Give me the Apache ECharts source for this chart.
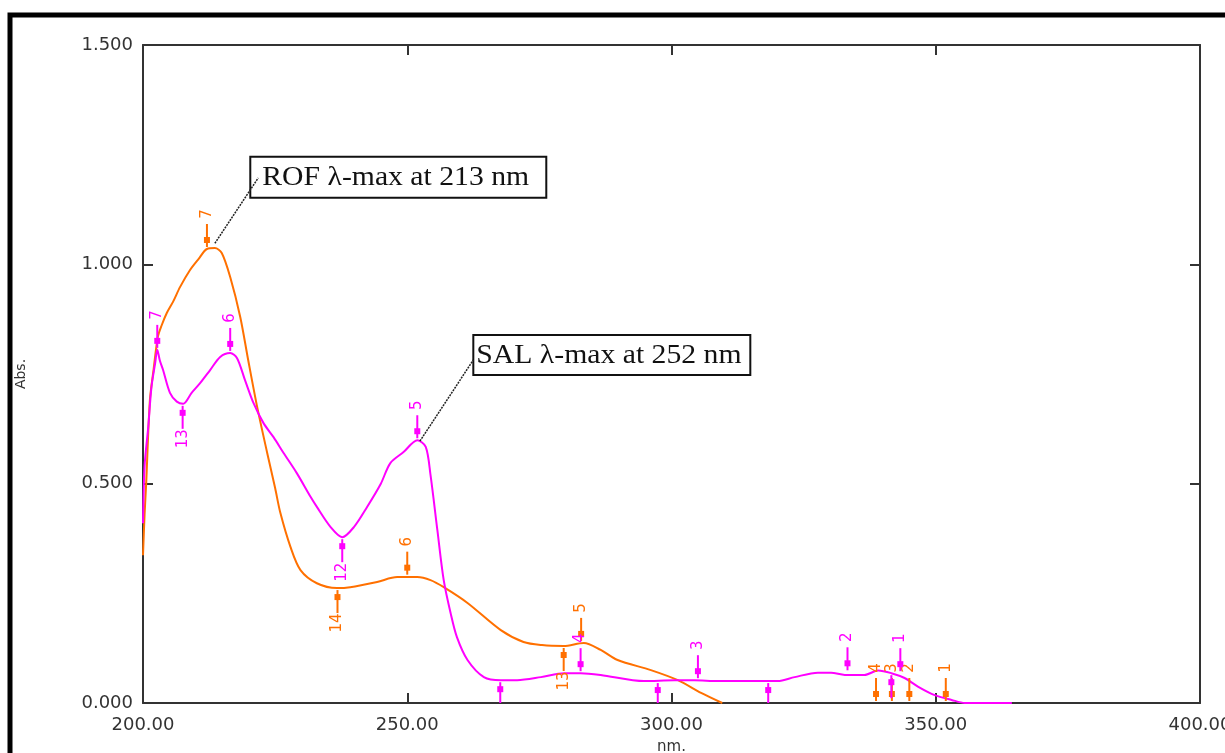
<!DOCTYPE html>
<html>
<head>
<meta charset="utf-8">
<script src="https://cdn.jsdelivr.net/npm/echarts@6/dist/echarts.min.js"></script>
<style>
  html, body { margin: 0; padding: 0; background: #fff; }
  #chart { width: 1225px; height: 753px; }
</style>
</head>
<body>
<div id="chart"></div>
<script>
// ROF spectrum (orange)
const rofNm = [200.0, 200.3, 200.6, 201.3, 202.0, 202.8, 203.5, 204.5, 205.7, 207.0, 208.9, 210.5, 212.1, 213.6, 214.9, 216.5, 218.4, 219.9, 221.6, 223.5, 225.0, 226.0, 227.9, 229.8, 232.9, 236.7, 239.2, 244.3, 248.1, 251.9, 254.4, 256.9, 261.4, 267.7, 272.0, 275.5, 279.6, 283.4, 286.6, 289.8, 296.1, 301.2, 305.6, 309.6];
const rofAbs = [0.337, 0.43, 0.50, 0.69, 0.76, 0.834, 0.86, 0.889, 0.915, 0.948, 0.987, 1.012, 1.035, 1.037, 1.026, 0.971, 0.880, 0.782, 0.675, 0.570, 0.49, 0.433, 0.356, 0.303, 0.273, 0.262, 0.264, 0.276, 0.287, 0.287, 0.280, 0.264, 0.228, 0.166, 0.139, 0.132, 0.130, 0.137, 0.121, 0.098, 0.075, 0.052, 0.023, 0.0];

// SAL spectrum (magenta)
const salNm = [200.0, 200.3, 201.0, 201.6, 202.3, 202.7, 203.2, 203.8, 205.1, 206.4, 207.6, 209.2, 210.8, 212.7, 214.6, 216.5, 217.8, 219.3, 220.9, 222.8, 224.7, 226.6, 229.1, 231.7, 232.9, 235.5, 237.7, 239.9, 242.4, 245.0, 246.8, 249.3, 251.9, 253.5, 254.4, 255.7, 256.9, 258.2, 259.4, 261.4, 264.5, 267.7, 270.8, 275.3, 279.7, 282.8, 286.6, 294.8, 300.5, 304.3, 308.8, 320.1, 323.3, 327.7, 330.2, 332.8, 336.5, 339.1, 341.6, 344.1, 346.7, 349.8, 353.0, 355.5, 364.4];
const salAbs = [0.41, 0.54, 0.63, 0.72, 0.775, 0.805, 0.78, 0.759, 0.707, 0.687, 0.682, 0.707, 0.729, 0.759, 0.789, 0.798, 0.786, 0.736, 0.684, 0.638, 0.606, 0.570, 0.524, 0.470, 0.447, 0.401, 0.378, 0.401, 0.447, 0.50, 0.547, 0.572, 0.599, 0.584, 0.52, 0.394, 0.280, 0.205, 0.150, 0.098, 0.059, 0.052, 0.052, 0.059, 0.068, 0.068, 0.064, 0.050, 0.052, 0.052, 0.050, 0.050, 0.059, 0.069, 0.069, 0.064, 0.064, 0.074, 0.068, 0.057, 0.037, 0.018, 0.007, 0.0, 0.0];

// peak picks: 1 = peak (arrow from above), -1 = valley (arrow from below)
const rofPickNm = [212.1, 236.8, 250.0, 279.6, 282.9, 338.7, 341.7, 345.0, 351.9];
const rofPickAbs = [1.035, 0.262, 0.288, 0.130, 0.137, 0.0, 0.0, 0.0, 0.0];
const rofPickDir = [1, -1, 1, -1, 1, 1, 1, 1, 1];
const rofPickNo = ['7', '14', '6', '13', '5', '4', '3', '2', '1'];

const salPickNm = [202.7, 207.5, 216.5, 237.7, 251.9, 267.6, 282.8, 297.4, 305.0, 318.3, 333.3, 341.6, 343.3];
const salPickAbs = [0.805, 0.682, 0.798, 0.378, 0.599, 0.052, 0.068, 0.050, 0.052, 0.050, 0.070, 0.068, 0.068];
const salPickDir = [1, -1, 1, -1, 1, -1, 1, -1, 1, -1, 1, -1, 1];
const salPickNo = ['7', '13', '6', '12', '5', '', '4', '', '3', '', '2', '', '1'];

const xTicks = [200, 250, 300, 350, 400];
const yTicks = [0, 0.5, 1.0, 1.5];

const ROF = '#ff7000';
const SAL = '#ff00ff';
const AXIS = '#333';

function zip(a, b) { return a.map((v, i) => [v, b[i]]); }

function pickRenderer(color, dirs, names) {
  return function (params, api) {
    const p = api.coord([api.value(0), api.value(1)]);
    const s = dirs[params.dataIndex];
    const x = p[0], y = p[1];
    return {
      type: 'group',
      children: [
        { type: 'line', shape: { x1: x, y1: y - s * 2, x2: x, y2: y - s * 25 },
          style: { stroke: color, lineWidth: 2 } },
        { type: 'rect', shape: { x: x - 3, y: y - s * 9 - 3, width: 6, height: 6 },
          style: { fill: color } },
        { type: 'text', x: x, y: y - s * 35, rotation: Math.PI / 2,
          style: { text: names[params.dataIndex], fill: color, font: '15px "DejaVu Sans"',
                   align: 'center', verticalAlign: 'middle' } }
      ]
    };
  };
}

const chart = echarts.init(document.getElementById('chart'));

const axisLine = { show: true, onZero: false, lineStyle: { color: AXIS, width: 2 } };
const tickStyle = { show: true, inside: true, length: 10, lineStyle: { color: AXIS, width: 2 } };

chart.setOption({
  animation: false,
  backgroundColor: '#fff',
  grid: { left: 143, right: 25, top: 45, bottom: 50, outerBoundsMode: 'none', containLabel: false },
  xAxis: [
    {
      type: 'value', min: xTicks[0], max: xTicks[xTicks.length - 1], interval: 50,
      name: 'nm.', nameLocation: 'middle', nameGap: 37,
      nameTextStyle: { color: AXIS, fontFamily: 'DejaVu Sans', fontSize: 15 },
      axisLine: axisLine, axisTick: tickStyle,
      axisLabel: { color: AXIS, fontFamily: 'DejaVu Sans', fontSize: 18, margin: 13,
                   formatter: v => v.toFixed(2) },
      splitLine: { show: false }
    },
    {
      type: 'value', position: 'top', min: xTicks[0], max: xTicks[xTicks.length - 1], interval: 50,
      axisLine: axisLine, axisTick: tickStyle, axisLabel: { show: false }, splitLine: { show: false }
    }
  ],
  yAxis: [
    {
      type: 'value', min: yTicks[0], max: yTicks[yTicks.length - 1], interval: 0.5,
      name: 'Abs.', nameLocation: 'middle', nameGap: 115,
      nameTextStyle: { color: AXIS, fontFamily: 'DejaVu Sans', fontSize: 14 },
      axisLine: axisLine, axisTick: tickStyle,
      axisLabel: { color: AXIS, fontFamily: 'DejaVu Sans', fontSize: 18, margin: 10,
                   formatter: v => v.toFixed(3) },
      splitLine: { show: false }
    },
    {
      type: 'value', position: 'right', min: yTicks[0], max: yTicks[yTicks.length - 1], interval: 0.5,
      axisLine: axisLine, axisTick: tickStyle, axisLabel: { show: false }, splitLine: { show: false }
    }
  ],
  series: [
    {
      name: 'ROF', type: 'line', data: zip(rofNm, rofAbs), smooth: 0.3, symbol: 'none',
      lineStyle: { color: ROF, width: 2 }, z: 3
    },
    {
      name: 'SAL', type: 'line', data: zip(salNm, salAbs), smooth: 0.3, symbol: 'none',
      lineStyle: { color: SAL, width: 2 }, z: 4
    },
    {
      name: 'ROF picks', type: 'custom', clip: true, data: zip(rofPickNm, rofPickAbs),
      encode: { x: 0, y: 1 }, renderItem: pickRenderer(ROF, rofPickDir, rofPickNo), z: 5
    },
    {
      name: 'SAL picks', type: 'custom', clip: true, data: zip(salPickNm, salPickAbs),
      encode: { x: 0, y: 1 }, renderItem: pickRenderer(SAL, salPickDir, salPickNo), z: 5
    }
  ]
});

// callouts placed in data space
function px(nm, a) { return chart.convertToPixel({ xAxisIndex: 0, yAxisIndex: 0 }, [nm, a]); }

function callout(text, from, to, boxAt, w, h, pad) {
  const a = px(from[0], from[1]);
  const b = px(to[0], to[1]);
  const c = px(boxAt[0], boxAt[1]);
  return [
    { type: 'rect', shape: { x: c[0], y: c[1], width: w, height: h },
      style: { fill: '#fff', stroke: '#111', lineWidth: 2 }, z: 10 },
    { type: 'text', x: c[0] + pad, y: c[1] + h / 2 + 1, scaleX: 1.1,
      style: { text: text, fill: '#111', font: '27px "Liberation Serif"', verticalAlign: 'middle' }, z: 11 },
    { type: 'line', shape: { x1: a[0], y1: a[1], x2: b[0], y2: b[1] },
      style: { stroke: '#222', lineWidth: 1.5, lineDash: [2, 1] }, z: 12 }
  ];
}

chart.setOption({
  graphic: [
    { type: 'rect', shape: { x: 10, y: 15, width: 1400, height: 900 },
      style: { fill: 'none', stroke: '#000', lineWidth: 5 }, silent: true },
    ...callout('ROF \u03bb-max at 213 nm', [213.6, 1.048], [221.8, 1.197], [220.3, 1.245], 296, 41, 12),
    ...callout('SAL \u03bb-max at 252 nm', [252.4, 0.597], [262.5, 0.782], [262.5, 0.839], 277, 40, 3)
  ]
});
</script>
</body>
</html>
